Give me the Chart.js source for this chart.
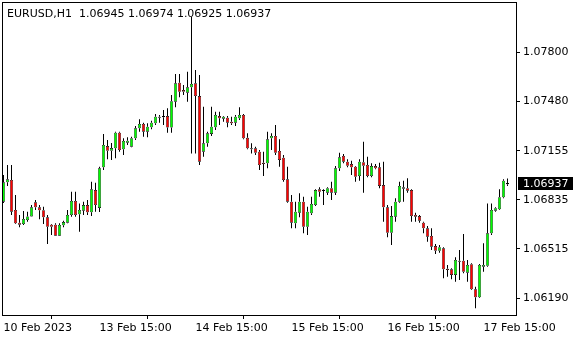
<!DOCTYPE html>
<html>
<head>
<meta charset="utf-8">
<script src="https://cdn.jsdelivr.net/npm/chart.js@4.4.1/dist/chart.umd.min.js"></script>
<style>
  html, body { margin: 0; padding: 0; background: #fff; }
  canvas { display: block; }
</style>
</head>
<body>
<canvas id="chart" width="580" height="340"></canvas>
<script>
// EURUSD H1, one entry per bar (10 Feb 2023 15:00 .. 17 Feb 21:00)
const symbolTitle = 'EURUSD,H1';
const opens = [
  1.06823, 1.06950, 1.06965, 1.06769, 1.06686, 1.06677, 1.06703, 1.06727, 1.06819, 1.06786,
  1.06767, 1.06721, 1.06673, 1.06673, 1.06601, 1.06669, 1.06686, 1.06736, 1.06828, 1.06741,
  1.06764, 1.06801, 1.06754, 1.06899, 1.06782, 1.07048, 1.07187, 1.07156, 1.07172, 1.07274,
  1.07166, 1.07209, 1.07183, 1.07238, 1.07303, 1.07331, 1.07281, 1.07310, 1.07336, 1.07372,
  1.07375, 1.07383, 1.07308, 1.07477, 1.07601, 1.07553, 1.07536, 1.07571, 1.07597, 1.07514,
  1.07150, 1.07205, 1.07266, 1.07310, 1.07383, 1.07366, 1.07372, 1.07346, 1.07340, 1.07368,
  1.07390, 1.07241, 1.07172, 1.07172, 1.07150, 1.07078, 1.07074, 1.07238, 1.07253, 1.07155,
  1.07111, 1.06969, 1.06823, 1.06682, 1.06751, 1.06823, 1.06659, 1.06747, 1.06801, 1.06904,
  1.06893, 1.06882, 1.06911, 1.06882, 1.07041, 1.07122, 1.07085, 1.07069, 1.07052, 1.06991,
  1.07081, 1.07063, 1.06991, 1.07056, 1.07048, 1.06932, 1.06786, 1.06620, 1.06725, 1.06823,
  1.06908, 1.06911, 1.06899, 1.06736, 1.06729, 1.06686, 1.06649, 1.06599, 1.06533, 1.06502,
  1.06518, 1.06385, 1.06381, 1.06344, 1.06431, 1.06437, 1.06359, 1.06414, 1.06250, 1.06198,
  1.06398, 1.06404, 1.06616, 1.06764, 1.06773, 1.06852, 1.06945
];
const highs = [
  1.06998, 1.07063, 1.07063, 1.06867, 1.06736, 1.06762, 1.06758, 1.06801, 1.06834, 1.06801,
  1.06790, 1.06736, 1.06677, 1.06682, 1.06682, 1.06699, 1.06769, 1.06888, 1.06888, 1.06812,
  1.06823, 1.06834, 1.06954, 1.06947, 1.07052, 1.07266, 1.07226, 1.07207, 1.07281, 1.07281,
  1.07238, 1.07244, 1.07248, 1.07318, 1.07362, 1.07340, 1.07336, 1.07353, 1.07396, 1.07390,
  1.07423, 1.07434, 1.07521, 1.07658, 1.07658, 1.07586, 1.07673, 1.08031, 1.07684, 1.07652,
  1.07444, 1.07281, 1.07444, 1.07412, 1.07412, 1.07383, 1.07383, 1.07379, 1.07390, 1.07440,
  1.07396, 1.07270, 1.07205, 1.07183, 1.07161, 1.07150, 1.07281, 1.07270, 1.07325, 1.07231,
  1.07128, 1.07052, 1.06867, 1.06823, 1.06878, 1.06856, 1.06790, 1.06856, 1.06904, 1.06917,
  1.06904, 1.06917, 1.06954, 1.07056, 1.07143, 1.07135, 1.07100, 1.07091, 1.07056, 1.07100,
  1.07215, 1.07117, 1.07074, 1.07069, 1.07078, 1.07085, 1.06801, 1.06795, 1.06845, 1.06954,
  1.06960, 1.06976, 1.06904, 1.06751, 1.06736, 1.06692, 1.06664, 1.06649, 1.06546, 1.06540,
  1.06525, 1.06409, 1.06387, 1.06459, 1.06507, 1.06612, 1.06442, 1.06420, 1.06267, 1.06415,
  1.06551, 1.06812, 1.06812, 1.06786, 1.06904, 1.06969, 1.06974
];
const lows = [
  1.06814, 1.06926, 1.06736, 1.06677, 1.06656, 1.06671, 1.06692, 1.06725, 1.06769, 1.06708,
  1.06677, 1.06546, 1.06605, 1.06599, 1.06599, 1.06656, 1.06682, 1.06725, 1.06725, 1.06627,
  1.06736, 1.06736, 1.06729, 1.06758, 1.06756, 1.07030, 1.07100, 1.07096, 1.07107, 1.07150,
  1.07128, 1.07194, 1.07179, 1.07226, 1.07281, 1.07248, 1.07244, 1.07296, 1.07325, 1.07340,
  1.07325, 1.07274, 1.07274, 1.07440, 1.07506, 1.07521, 1.07477, 1.07139, 1.07139, 1.07063,
  1.07117, 1.07183, 1.07253, 1.07292, 1.07325, 1.07346, 1.07310, 1.07325, 1.07318, 1.07357,
  1.07231, 1.07166, 1.07139, 1.07128, 1.07030, 1.06991, 1.07041, 1.07161, 1.07128, 1.07052,
  1.06954, 1.06816, 1.06649, 1.06649, 1.06721, 1.06616, 1.06605, 1.06736, 1.06795, 1.06856,
  1.06801, 1.06867, 1.06834, 1.06867, 1.07024, 1.07074, 1.07048, 1.06998, 1.06954, 1.06960,
  1.06882, 1.06983, 1.06983, 1.07035, 1.06911, 1.06692, 1.06590, 1.06540, 1.06692, 1.06816,
  1.06823, 1.06882, 1.06692, 1.06692, 1.06686, 1.06616, 1.06561, 1.06507, 1.06481, 1.06489,
  1.06322, 1.06332, 1.06315, 1.06300, 1.06311, 1.06355, 1.06300, 1.06245, 1.06126, 1.06193,
  1.06365, 1.06398, 1.06605, 1.06758, 1.06769, 1.06845, 1.06925
];
const closes = [
  1.06950, 1.06969, 1.06758, 1.06682, 1.06673, 1.06710, 1.06727, 1.06786, 1.06786, 1.06767,
  1.06721, 1.06659, 1.06659, 1.06601, 1.06671, 1.06690, 1.06736, 1.06828, 1.06736, 1.06769,
  1.06801, 1.06754, 1.06904, 1.06801, 1.07041, 1.07194, 1.07156, 1.07174, 1.07274, 1.07161,
  1.07220, 1.07222, 1.07238, 1.07303, 1.07331, 1.07281, 1.07313, 1.07340, 1.07379, 1.07379,
  1.07383, 1.07308, 1.07480, 1.07597, 1.07542, 1.07542, 1.07571, 1.07593, 1.07514, 1.07085,
  1.07205, 1.07270, 1.07313, 1.07390, 1.07368, 1.07379, 1.07340, 1.07336, 1.07379, 1.07390,
  1.07238, 1.07172, 1.07166, 1.07143, 1.07063, 1.07069, 1.07231, 1.07253, 1.07143, 1.07096,
  1.06965, 1.06823, 1.06686, 1.06758, 1.06823, 1.06659, 1.06758, 1.06808, 1.06899, 1.06888,
  1.06899, 1.06911, 1.06882, 1.07041, 1.07113, 1.07085, 1.07058, 1.07048, 1.06986, 1.07085,
  1.07058, 1.06991, 1.07056, 1.07041, 1.06926, 1.06786, 1.06620, 1.06729, 1.06823, 1.06926,
  1.06917, 1.06895, 1.06729, 1.06725, 1.06699, 1.06649, 1.06594, 1.06529, 1.06502, 1.06525,
  1.06381, 1.06376, 1.06344, 1.06442, 1.06437, 1.06365, 1.06409, 1.06250, 1.06198, 1.06409,
  1.06409, 1.06616, 1.06769, 1.06780, 1.06852, 1.06960, 1.06937
];

// time axis labels sit on these bar indexes
const timeTickBars = [0, 24, 48, 72, 96, 120];
const timeTickLabels = ['10 Feb 2023', '13 Feb 15:00', '14 Feb 15:00', '15 Feb 15:00', '16 Feb 15:00', '17 Feb 15:00'];
const priceTicks = [1.07800, 1.07480, 1.07155, 1.06835, 1.06515, 1.06190];

const UP = '#00ff00';
const DOWN = '#ff0000';

Chart.defaults.font.family = 'DejaVu Sans';
Chart.defaults.font.size = 11;
Chart.defaults.color = '#000';

// bodies [open, close]; wicks split so they never run through a body
const bodies = opens.map((o, i) => ({ x: i, y: [o, closes[i]] }));
const upperWicks = highs.map((h, i) => ({ x: i, y: [Math.max(opens[i], closes[i]), h] }));
const lowerWicks = lows.map((l, i) => ({ x: i, y: [l, Math.min(opens[i], closes[i])] }));
const bodyColors = opens.map((o, i) => closes[i] >= o ? UP : DOWN);

const wickSet = (label, data) => ({
    label: label,
    data: data,
    order: 2,
    grouped: false,
    barThickness: 1,
    maxBarThickness: 1,
    backgroundColor: '#000',
    borderWidth: 0,
    inflateAmount: 0
});

// frame, header text and current price box
const terminalDecor = {
    id: 'terminalDecor',
    afterDraw(chart) {
        const ctx = chart.ctx;
        const a = chart.chartArea;
        const y = chart.scales.y;
        ctx.save();
        ctx.strokeStyle = '#000';
        ctx.lineWidth = 1;
        ctx.strokeRect(a.left + 0.5, a.top + 0.5, a.right - a.left, a.bottom - a.top);

        const last = opens.length - 1;
        const fmt = v => v.toFixed(5);
        ctx.font = '11px "DejaVu Sans"';
        ctx.fillStyle = '#000';
        ctx.textBaseline = 'alphabetic';
        ctx.textAlign = 'left';
        ctx.fillText(symbolTitle + '  ' + [opens[last], highs[last], lows[last], closes[last]].map(fmt).join(' '), 7, 17);

        const py = Math.round(y.getPixelForValue(closes[last]));
        ctx.fillRect(518, py - 7, 55, 13);
        ctx.fillStyle = '#fff';
        ctx.textBaseline = 'middle';
        ctx.fillText(fmt(closes[last]), 523, py);
        ctx.restore();
    }
};

new Chart(document.getElementById('chart'), {
    type: 'bar',
    data: {
        datasets: [{
            label: 'body',
            data: bodies,
            order: 1,
            grouped: false,
            barThickness: 3,
            maxBarThickness: 3,
            minBarLength: 1,
            backgroundColor: bodyColors,
            borderColor: '#000',
            borderWidth: 0.6,
            borderSkipped: false,
            inflateAmount: 0
        },
        wickSet('upper wick', upperWicks),
        wickSet('lower wick', lowerWicks)]
    },
    options: {
        responsive: false,
        animation: false,
        layout: { padding: { left: 2, top: 2, right: 0, bottom: 0 } },
        plugins: {
            legend: { display: false },
            tooltip: { enabled: false }
        },
        scales: {
            x: {
                type: 'linear',
                bounds: 'data',
                min: -0.375,
                max: 128.125,
                offset: false,
                afterBuildTicks: s => { s.ticks = timeTickBars.map(v => ({ value: v })); },
                afterFit: s => { s.height = 25; s.paddingLeft = 0; s.paddingRight = 0; },
                ticks: {
                    autoSkip: false,
                    maxRotation: 0,
                    align: 'start',
                    padding: 3,
                    callback: (v, i) => timeTickLabels[i]
                },
                grid: { drawOnChartArea: false, tickLength: 4, color: '#000' },
                border: { color: '#000' }
            },
            y: {
                position: 'right',
                bounds: 'data',
                min: 1.06082,
                max: 1.08129,
                afterBuildTicks: s => { s.ticks = priceTicks.map(v => ({ value: v })); },
                afterFit: s => { s.width = 64; s.paddingTop = 0; s.paddingBottom = 0; },
                ticks: {
                    autoSkip: false,
                    padding: 3,
                    callback: v => v.toFixed(5)
                },
                grid: { drawOnChartArea: false, tickLength: 4, color: '#000' },
                border: { color: '#000' }
            }
        }
    },
    plugins: [terminalDecor]
});
</script>
</body>
</html>
